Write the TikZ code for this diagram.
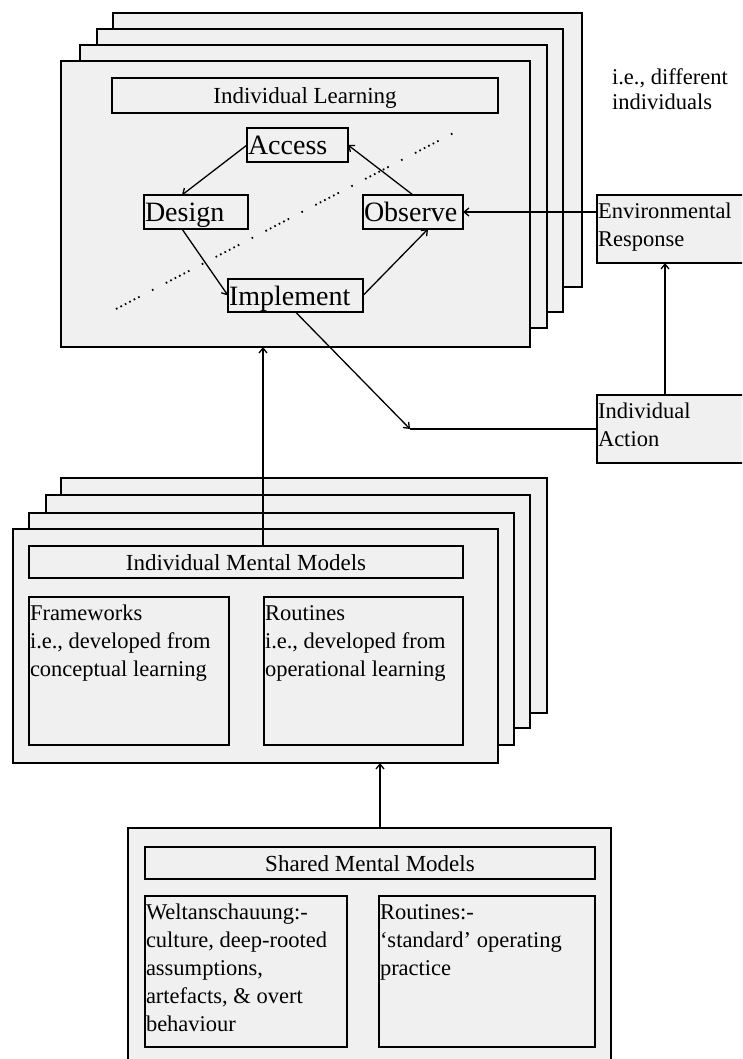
\documentclass[tikz,border=0pt]{standalone}
\usepackage{fontspec}
\setmainfont{Liberation Serif}
\usetikzlibrary{arrows.meta,calc}
\definecolor{panel}{HTML}{F0F0F0}

% filled rectangle given by its corners: [options]{name}{x1}{y1}{x2}{y2}
\newcommand{\panelbox}[6][]{%
  \node[card,#1,minimum width={(#5-#3)*1pt},minimum height={(#6-#4)*1pt}] (#2) at (#3,#4) {};}
% several left-aligned lines, baseline on the first one
\newcommand{\linesof}[1]{\begin{tabular}[t]{@{}l@{}}#1\end{tabular}}

\begin{document}
\begin{tikzpicture}[x=1pt,y=-1pt,
  card/.style={draw=black,fill=panel,line width=1.8pt,rectangle,
    inner sep=0pt,outer sep=0pt,anchor=north west},
  cyclebox/.style={draw=black,fill=panel,line width=1.7pt,rectangle,
    inner sep=1pt,outer sep=0pt,anchor=north west,align=left,
    font=\fontsize{28}{30}\selectfont,text height=20pt,text depth=0pt},
  titlebox/.style={card,anchor=north west,
    font=\fontsize{23}{26}\selectfont,text height=16pt,text depth=0pt},
  body/.style={inner sep=0pt,outer sep=0pt,anchor=base west,
    font=\fontsize{22.5}{28}\selectfont},
  conn/.style={line width=1.3pt,-{Straight Barb[length=5pt,width=8pt]}},
  link/.style={line width=1.3pt},
  divider/.style={line width=1.8pt,
    dash pattern=on 1.6pt off 3.4pt on 1.6pt off 3.4pt on 1.6pt off 3.4pt
      on 1.6pt off 3.4pt on 1.6pt off 3.4pt on 1.6pt off 14pt on 1.6pt off 14pt}]

\useasboundingbox (0,0) rectangle (742,1059);
\clip (0,0) rectangle (742,1059);

% ---------- individual learning: stack of cards ----------
\panelbox{ilc4}{113}{13}{582}{287}
\panelbox{ilc3}{97}{29}{563}{312}
\panelbox{ilc2}{80}{45}{547}{328}
\panelbox{ilfront}{61}{61}{530}{347}
\node[titlebox,minimum width=386pt,minimum height=35pt] (iltitle) at (112,78) {Individual Learning};

% learning cycle
\node[cyclebox,text width=99pt,minimum height=34pt] (access) at (247,128) {Access};
\node[cyclebox,text width=102pt,minimum height=34pt] (design) at (144,195) {Design};
\node[cyclebox,text width=98pt,minimum height=34pt] (observe) at (363,195) {Observe};
\node[cyclebox,text width=133pt,minimum height=33pt] (implement) at (228,279) {Implement};

\coordinate (divA) at (116,309);
\coordinate (divB) at (463,128);
\draw[divider] (divA) -- (divB);

\node[body] (others) at (612,85) {\fontsize{22.5}{25}\selectfont\linesof{i.e., different\\individuals}};

% ---------- environment ----------
\panelbox{env}{597}{195}{760}{263}
\node[body] (envtext) at ([xshift=1pt,yshift=-23.5pt]env.north west) {\linesof{Environmental\\Response}};
\panelbox{ia}{597}{395}{760}{463}
\node[body] (iatext) at ([xshift=1pt,yshift=-23.5pt]ia.north west) {\linesof{Individual\\Action}};

% ---------- individual mental models: stack of cards ----------
\panelbox{immc4}{61}{478}{547}{713}
\panelbox{immc3}{46}{495}{530}{728}
\panelbox{immc2}{29}{513}{514}{745}
\panelbox{immfront}{13}{529}{498}{763}
\node[titlebox,minimum width=434pt,minimum height=32pt] (immtitle) at (29,546) {Individual Mental Models};
\panelbox{frameworks}{29}{597}{229}{745}
\node[body] (fwtext) at ([xshift=1pt,yshift=-23.5pt]frameworks.north west)
  {\linesof{Frameworks\\i.e., developed from\\conceptual learning}};
\panelbox{routines}{264}{597}{463}{745}
\node[body] (rttext) at ([xshift=1pt,yshift=-23.5pt]routines.north west)
  {\linesof{Routines\\i.e., developed from\\operational learning}};

% ---------- shared mental models ----------
\panelbox{smm}{128}{828}{611}{1090}
\node[titlebox,minimum width=450pt,minimum height=32pt] (smmtitle) at (145,847) {Shared Mental Models};
\panelbox{welt}{145}{896}{347}{1047}
\node[body] (welttext) at ([xshift=1pt,yshift=-23.5pt]welt.north west)
  {\linesof{Weltanschauung:-\\culture, deep-rooted\\assumptions,\\artefacts, \& overt\\behaviour}};
\panelbox{sroutines}{379}{896}{595}{1047}
\node[body] (srtext) at ([xshift=1pt,yshift=-23.5pt]sroutines.north west)
  {\linesof{Routines:-\\‘standard’ operating\\practice}};

% ---------- connectors ----------
\draw[conn] (access.west) -- ([xshift=38pt]design.north west);
\draw[conn] ([xshift=38pt]design.south west) -- (implement.west);
\draw[conn] (implement.east) -- ([xshift=65pt]observe.south west);
\draw[conn] ([xshift=50pt]observe.north west) -- (access.east);
\draw[conn] ([yshift=-17pt]env.north west) -- (observe.east);
\draw[conn] ([xshift=68pt]ia.north west) -- ([xshift=68pt]env.south west);
\coordinate (split) at (410,429);
\draw[link] ([yshift=-34pt]ia.north west) -- (split);
\draw[conn] (implement.south) -- (split);
\draw[conn] ([xshift=234pt]immtitle.north west) -- ([xshift=202pt]ilfront.south west);
\draw[conn] ([xshift=252pt]smm.north west) -- ([xshift=367pt]immfront.south west);
\end{tikzpicture}
\end{document}
